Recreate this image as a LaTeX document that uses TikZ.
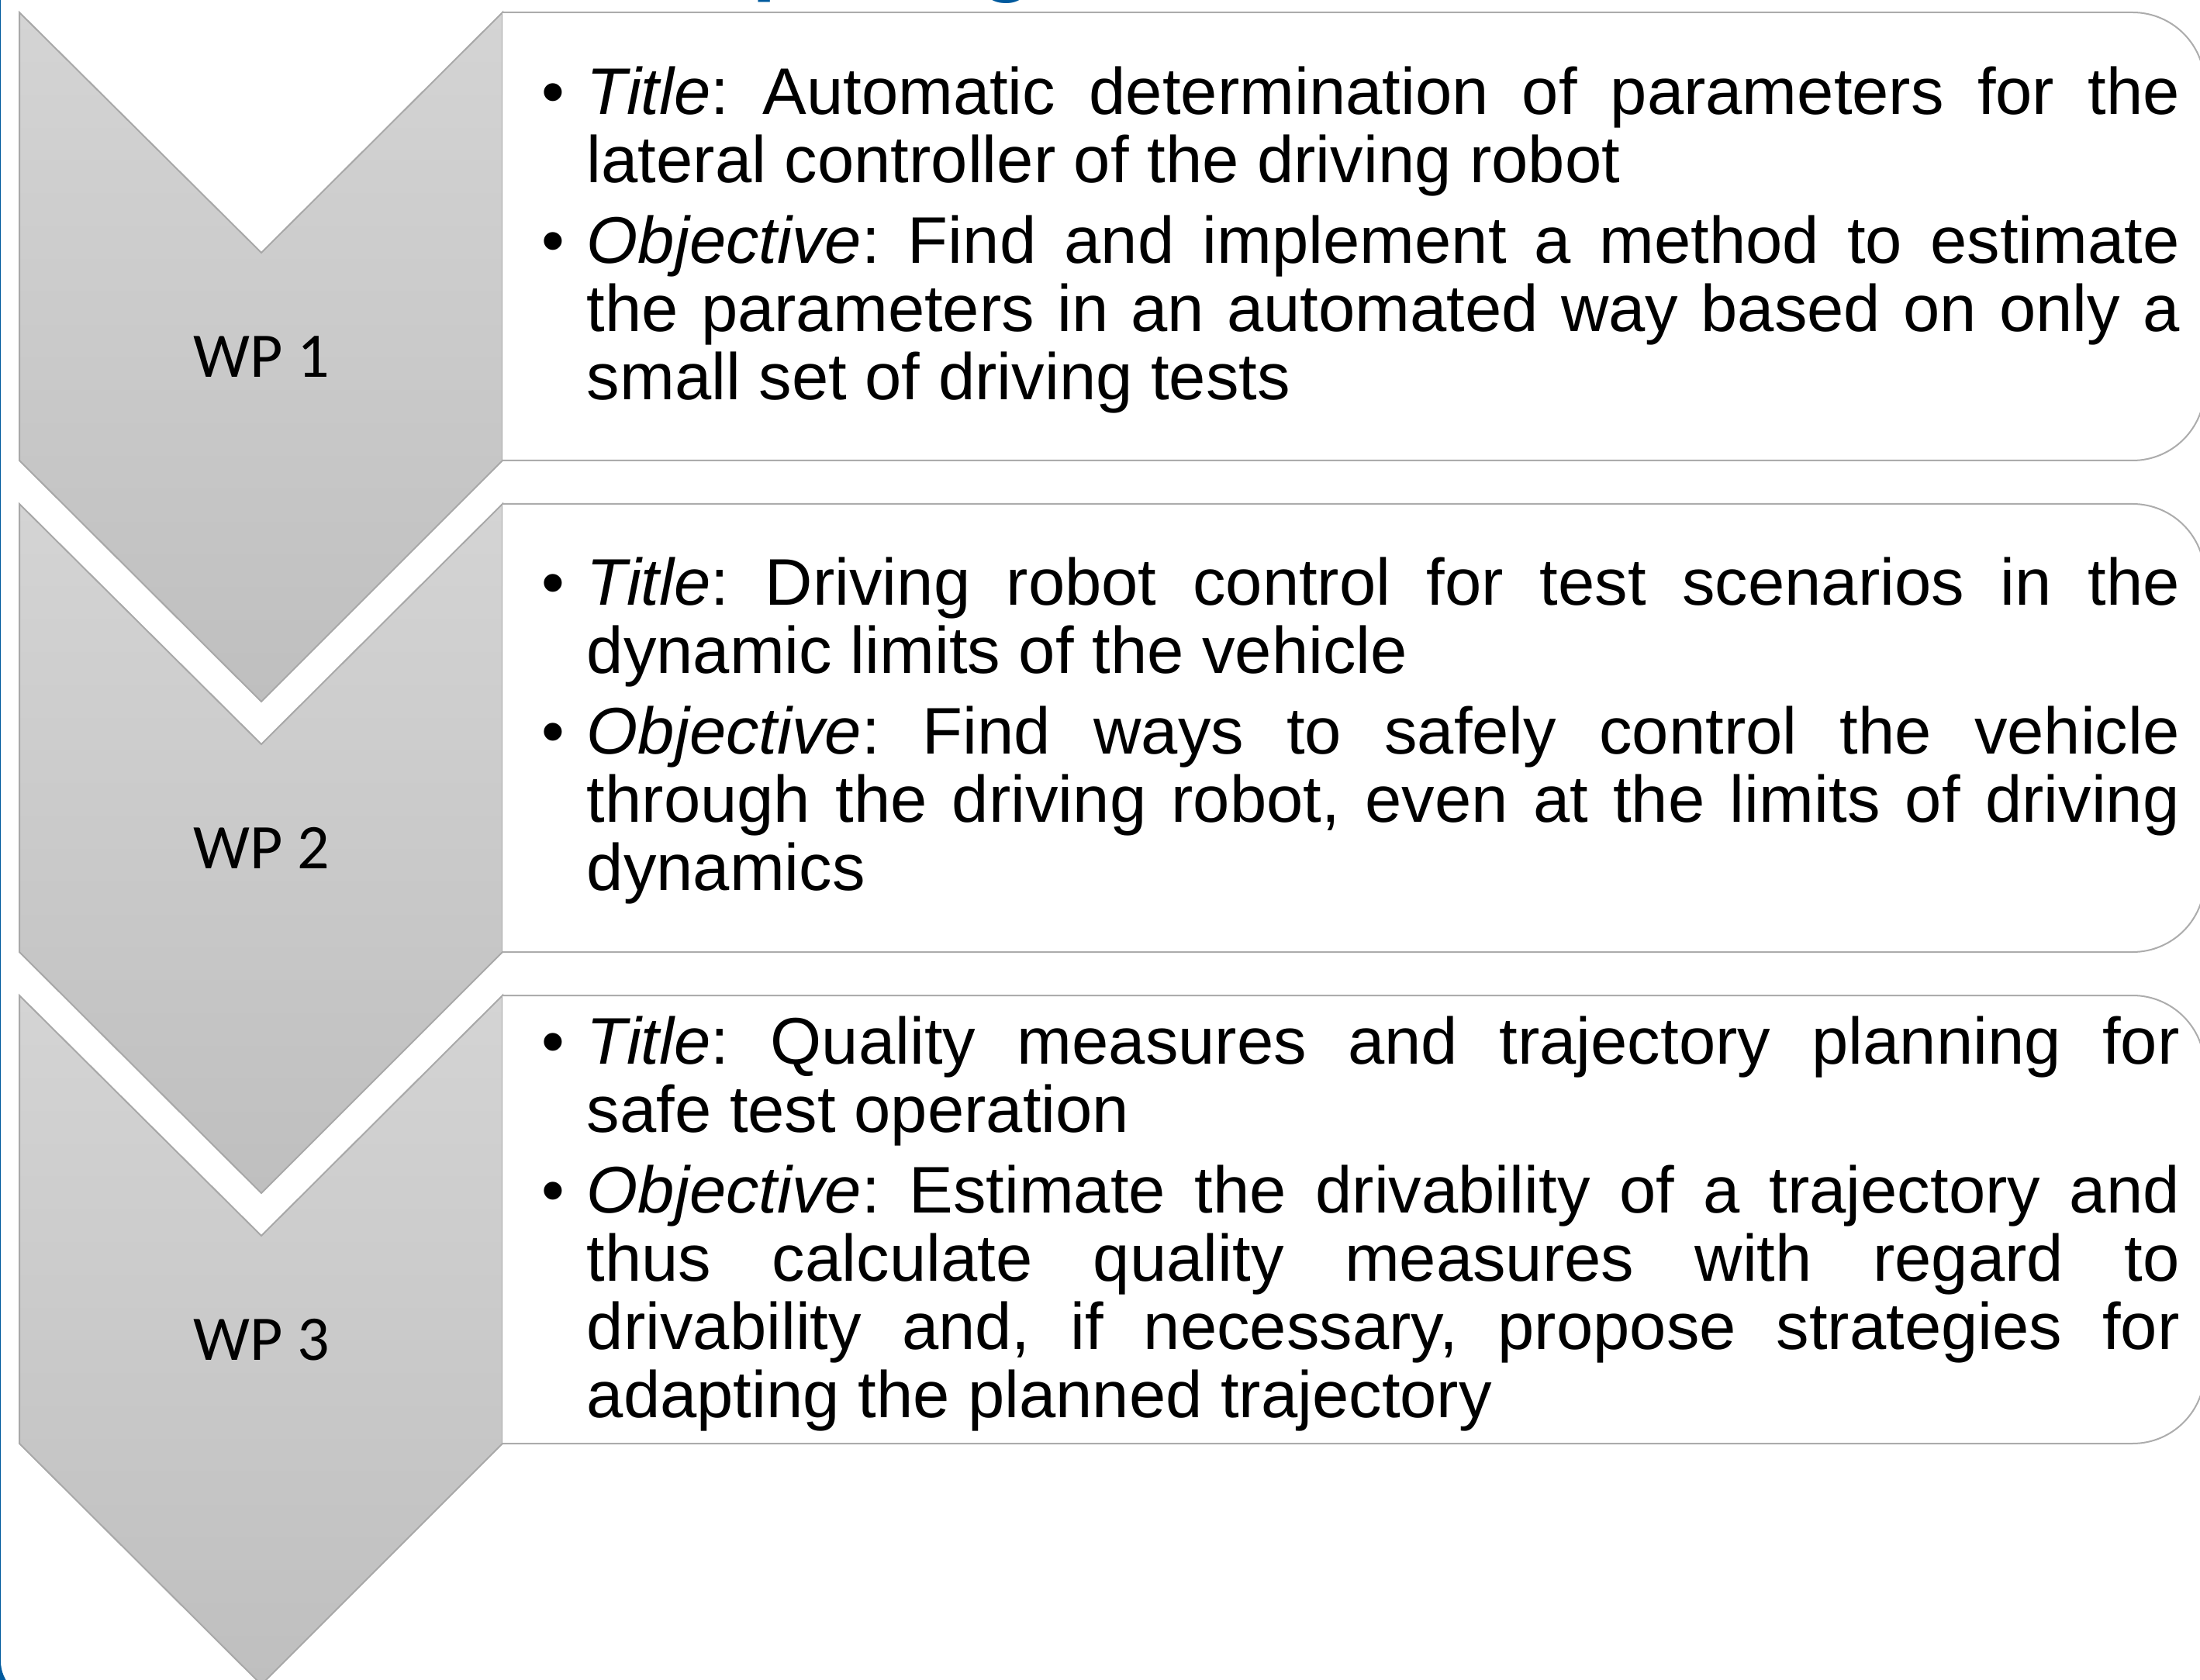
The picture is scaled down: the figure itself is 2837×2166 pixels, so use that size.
\documentclass[tikz,border=0pt]{standalone}
\usepackage{fontspec}
\setmainfont{Liberation Sans}
\newfontfamily\calib{Carlito}
\definecolor{chevtop}{RGB}{212,212,212}
\definecolor{chevbot}{RGB}{191,191,191}
\definecolor{chevline}{RGB}{168,168,168}
\definecolor{boxline}{RGB}{172,172,172}
\definecolor{frameblue}{RGB}{0,90,158}
\newcommand{\wpitem}[1]{\par\noindent\hangindent=14.5pt\hangafter=1\makebox[14.5pt][l]{•}#1\par}
\begin{document}
\frenchspacing
\begin{tikzpicture}[x=0.25pt,y=0.25pt,
  chev/.style={draw=chevline, line width=0.5pt, top color=chevtop, bottom color=chevbot},
  wpbox/.style={draw=boxline, line width=0.5pt, fill=white},
  wplabel/.style={font=\calib\fontsize{20.5pt}{24pt}\selectfont, inner sep=0pt},
  desc/.style={text width=528pt, align=justify, inner sep=0pt, anchor=west,
    font=\fontsize{21.25pt}{22pt}\selectfont,
    execute at begin node={\frenchspacing\setlength{\parskip}{4pt}\hyphenpenalty=10000\tolerance=10000\hbadness=10000}}]
\useasboundingbox (0,0) rectangle (2837,2166);
\clip (0,0) rectangle (2837,2166);
% slide frame
\draw[frameblue, line width=2.5pt, rounded corners=13pt] (-4,2400) -- (-4,-29) -- (500,-29);
% title (mostly above the visible area)
\node[anchor=base west, text=frameblue, font=\calib\bfseries\fontsize{31pt}{36pt}\selectfont, inner sep=0pt] (title) at (664,2182) {Work packages};
% chevrons
\path[chev] (25,2150) -- (337,1840) -- (648,2150) -- (648,1572) -- (337,1261) -- (25,1572) -- cycle;
\path[chev] (25,1516) -- (337,1206) -- (648,1516) -- (648,938) -- (337,627) -- (25,938) -- cycle;
\path[chev] (25,882) -- (337,572) -- (648,882) -- (648,304) -- (337,-7) -- (25,304) -- cycle;
% boxes
\path[wpbox] (648,2150) -- (2750,2150) arc[start angle=90,end angle=0,radius=93] -- (2843,1665) arc[start angle=0,end angle=-90,radius=93] -- (648,1572);
\path[wpbox] (648,1516) -- (2750,1516) arc[start angle=90,end angle=0,radius=93] -- (2843,1031) arc[start angle=0,end angle=-90,radius=93] -- (648,938);
\path[wpbox] (648,882) -- (2750,882) arc[start angle=90,end angle=0,radius=93] -- (2843,397) arc[start angle=0,end angle=-90,radius=93] -- (648,304);
% labels
\node[wplabel] (wp1) at (337,1706) {WP 1};
\node[wplabel] (wp2) at (337,1072) {WP 2};
\node[wplabel] (wp3) at (337,438) {WP 3};
% descriptions
\node[desc] (d1) at (698,1878) {%
\wpitem{\textit{Title}: Automatic determination of parameters for the\linebreak lateral controller of the driving robot}
\wpitem{\textit{Objective}: Find and implement a method to estimate\linebreak the parameters in an automated way based on only a\linebreak small set of driving tests}};
\node[desc] (d2) at (698,1245) {%
\wpitem{\textit{Title}: Driving robot control for test scenarios in the\linebreak dynamic limits of the vehicle}
\wpitem{\textit{Objective}: Find ways to safely control the vehicle\linebreak through the driving robot, even at the limits of driving\linebreak dynamics}};
\node[desc] (d3) at (698,609) {%
\wpitem{\textit{Title}: Quality measures and trajectory planning for\linebreak safe test operation}
\wpitem{\textit{Objective}: Estimate the drivability of a trajectory and\linebreak thus calculate quality measures with regard to\linebreak drivability and, if necessary, propose strategies for\linebreak adapting the planned trajectory}};
\end{tikzpicture}
\end{document}
